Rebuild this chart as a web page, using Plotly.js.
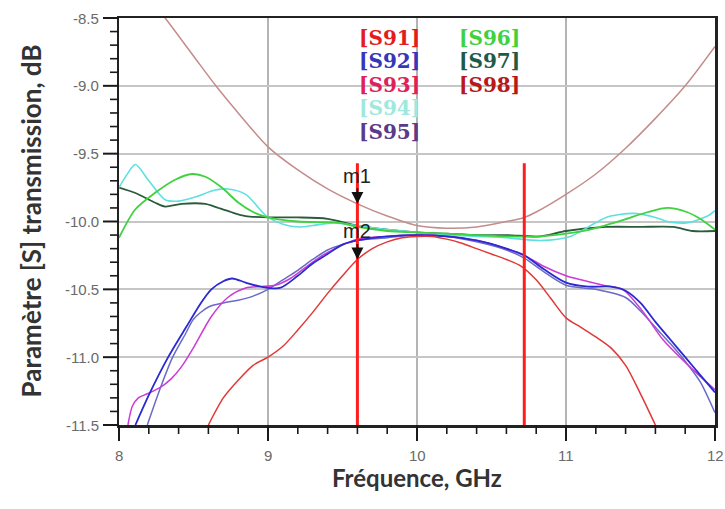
<!DOCTYPE html>
<html>
<head>
<meta charset="utf-8">
<script src="https://cdn.plot.ly/plotly-3.0.1.min.js"></script>
<style>
html,body{margin:0;padding:0;background:#fff;}
#chart{width:725px;height:509px;}
</style>
</head>
<body>
<div id="chart"></div>
<script>
// ---- data ----
var s98x = [8.0, 8.2, 8.31, 8.5, 8.65, 8.8, 9.0, 9.2, 9.4, 9.6, 9.8, 10.0, 10.2, 10.4, 10.6, 10.72, 10.8, 11.0, 11.2, 11.4, 11.6, 11.8, 12.0];
var s98y = [-8.05, -8.35, -8.5, -8.78, -9.0, -9.2, -9.45, -9.62, -9.76, -9.87, -9.96, -10.03, -10.05, -10.04, -10.0, -9.97, -9.93, -9.8, -9.65, -9.46, -9.24, -9.0, -8.71];

var s91x = [8.6, 8.7, 8.8, 8.9, 9.0, 9.1, 9.2, 9.3, 9.4, 9.5, 9.6, 9.7, 9.8, 9.9, 10.0, 10.1, 10.2, 10.3, 10.4, 10.5, 10.6, 10.7, 10.8, 10.9, 11.0, 11.1, 11.2, 11.3, 11.4, 11.5, 11.6];
var s91y = [-11.5, -11.3, -11.17, -11.06, -11.0, -10.92, -10.8, -10.67, -10.53, -10.4, -10.28, -10.2, -10.15, -10.12, -10.11, -10.11, -10.13, -10.16, -10.2, -10.24, -10.28, -10.33, -10.43, -10.57, -10.71, -10.78, -10.85, -10.93, -11.06, -11.27, -11.5];

var s92x = [8.11, 8.2, 8.33, 8.45, 8.55, 8.62, 8.7, 8.76, 8.85, 8.95, 9.08, 9.2, 9.3, 9.4, 9.5, 9.6, 9.8, 10.0, 10.2, 10.4, 10.6, 10.72, 10.85, 11.0, 11.15, 11.3, 11.4, 11.5, 11.6, 11.7, 11.8, 11.9, 12.0];
var s92y = [-11.5, -11.28, -11.0, -10.78, -10.6, -10.5, -10.44, -10.42, -10.45, -10.48, -10.49, -10.4, -10.31, -10.24, -10.17, -10.14, -10.11, -10.1, -10.11, -10.14, -10.2, -10.25, -10.35, -10.45, -10.48, -10.48, -10.51, -10.6, -10.74, -10.87, -11.0, -11.13, -11.26];

var s95x = [8.19, 8.28, 8.36, 8.45, 8.5, 8.6, 8.7, 8.8, 8.9, 9.0, 9.1, 9.2, 9.3, 9.4, 9.5, 9.6, 9.8, 10.0, 10.2, 10.4, 10.6, 10.72, 10.85, 11.0, 11.2, 11.4, 11.5, 11.6, 11.7, 11.8, 11.9, 12.0];
var s95y = [-11.5, -11.22, -11.0, -10.82, -10.72, -10.63, -10.6, -10.58, -10.55, -10.5, -10.43, -10.36, -10.28, -10.21, -10.17, -10.14, -10.12, -10.1, -10.11, -10.15, -10.21, -10.27, -10.37, -10.47, -10.5, -10.56, -10.66, -10.78, -10.9, -11.03, -11.18, -11.41];

var s93x = [8.06, 8.09, 8.13, 8.19, 8.28, 8.35, 8.42, 8.5, 8.62, 8.73, 8.85, 8.95, 9.05, 9.15, 9.25, 9.35, 9.45, 9.6, 9.8, 10.0, 10.2, 10.4, 10.6, 10.72, 10.85, 11.0, 11.1, 11.25, 11.38, 11.52, 11.65, 11.83, 12.0];
var s93y = [-11.5, -11.36, -11.3, -11.27, -11.22, -11.16, -11.07, -10.93, -10.7, -10.56, -10.49, -10.48, -10.47, -10.42, -10.34, -10.26, -10.2, -10.13, -10.11, -10.1, -10.11, -10.14, -10.2, -10.25, -10.33, -10.4, -10.43, -10.47, -10.5, -10.67, -10.87, -11.07, -11.24];

var s94x = [8.0, 8.05, 8.11, 8.2, 8.31, 8.4, 8.51, 8.64, 8.73, 8.85, 8.99, 9.1, 9.21, 9.3, 9.44, 9.6, 9.8, 10.0, 10.2, 10.4, 10.6, 10.83, 11.03, 11.15, 11.27, 11.45, 11.6, 11.68, 11.81, 11.95, 12.0];
var s94y = [-9.75, -9.66, -9.58, -9.7, -9.84, -9.85, -9.82, -9.77, -9.76, -9.8, -9.96, -10.02, -10.04, -10.03, -10.01, -10.03, -10.06, -10.08, -10.1, -10.11, -10.12, -10.14, -10.11, -10.04, -9.97, -9.94, -9.97, -10.0, -10.01, -9.96, -9.92];

var s96x = [8.0, 8.11, 8.24, 8.38, 8.49, 8.58, 8.69, 8.8, 8.9, 9.0, 9.2, 9.48, 9.6, 9.8, 10.0, 10.2, 10.4, 10.6, 10.83, 11.0, 11.16, 11.38, 11.55, 11.68, 11.81, 11.9, 12.0];
var s96y = [-10.12, -9.91, -9.79, -9.69, -9.65, -9.67, -9.75, -9.86, -9.93, -9.97, -10.0, -10.01, -10.04, -10.07, -10.08, -10.09, -10.1, -10.11, -10.11, -10.09, -10.06, -9.99, -9.93, -9.9, -9.93, -9.98, -10.06];

var s97x = [8.0, 8.11, 8.24, 8.31, 8.42, 8.58, 8.64, 8.75, 8.85, 9.03, 9.2, 9.4, 9.6, 9.8, 10.0, 10.2, 10.4, 10.6, 10.83, 11.0, 11.27, 11.5, 11.72, 11.85, 12.0];
var s97y = [-9.75, -9.79, -9.86, -9.89, -9.87, -9.87, -9.89, -9.93, -9.96, -9.97, -9.97, -9.98, -10.03, -10.06, -10.08, -10.09, -10.1, -10.1, -10.11, -10.07, -10.04, -10.04, -10.04, -10.07, -10.07];

var markerFreq = [9.6, 10.72];
var markerNames = ['m1', 'm2'];
var markerVals = [-9.87, -10.28];
var markerTop = -9.57;

var legendNames = ['[S91]', '[S92]', '[S93]', '[S94]', '[S95]', '[S96]', '[S97]', '[S98]'];
var legendColors = ['#e41c1c', '#3636b8', '#e0205a', '#9ee8de', '#5a3a8a', '#3fd23f', '#1f5a48', '#b81818'];

var xRange = [8, 12];
var yRange = [-11.5, -8.5];
var xTickVals = [8, 9, 10, 11, 12];
var xTickText = ['8', '9', '10', '11', '12'];
var yTickVals = [-8.5, -9.0, -9.5, -10.0, -10.5, -11.0, -11.5];
var yTickText = ['-8.5', '-9.0', '-9.5', '-10.0', '-10.5', '-11.0', '-11.5'];
var xMinorStep = 0.2;
var yMinorStep = 0.1;
var xTitle = 'Fréquence, GHz';
var yTitle = 'Paramètre [S] transmission, dB';

// ---- geometry of the frame (pixels) ----
var W = 725, H = 509, M = {l: 119, r: 10, t: 18, b: 84};
var plotW = W - M.l - M.r, plotH = H - M.t - M.b;

// ---- traces ----
function tr(x, y, color, w) {
  return {x: x, y: y, type: 'scatter', mode: 'lines',
          line: {color: color, width: w, shape: 'spline', smoothing: 0.8},
          hoverinfo: 'skip', showlegend: false};
}
var data = [
  tr(s98x, s98y, '#c48c8c', 1.5),
  tr(s97x, s97y, '#2a5c3c', 1.8),
  tr(s94x, s94y, '#5fe0e0', 1.6),
  tr(s96x, s96y, '#3fd23f', 1.8),
  tr(s95x, s95y, '#6a6ac8', 1.5),
  tr(s93x, s93y, '#cc3ad8', 1.5),
  tr(s92x, s92y, '#2a2ad0', 1.8),
  tr(s91x, s91y, '#e03838', 1.5)
];

// ---- shapes ----
var shapes = [{
  type: 'rect', xref: 'paper', yref: 'paper', x0: 0.383, x1: 0.698, y0: 0.646, y1: 1,
  fillcolor: '#ffffff', line: {width: 0}, layer: 'between'
}];
markerFreq.forEach(function (f) {
  shapes.push({type: 'line', xref: 'x', yref: 'y', x0: f, x1: f, y0: markerTop, y1: yRange[0],
               line: {color: '#ff1e1e', width: 3}, layer: 'above'});
});
// tick marks outside the frame (paper-referenced so they are not clipped)
function xPaper(v) { return (v - xRange[0]) / (xRange[1] - xRange[0]); }
function yPaper(v) { return (v - yRange[0]) / (yRange[1] - yRange[0]); }
var nx = Math.round((xRange[1] - xRange[0]) / xMinorStep);
for (var i = 0; i <= nx; i++) {
  var px = xPaper(xRange[0] + i * xMinorStep);
  var major = (i % 5 === 0);
  shapes.push({type: 'line', xref: 'paper', yref: 'paper', x0: px, x1: px, y0: 0,
               y1: -(major ? 16 : 9) / plotH, line: {color: '#1a1a1a', width: major ? 2 : 1.6}});
}
var ny = Math.round((yRange[1] - yRange[0]) / yMinorStep);
for (var j = 0; j <= ny; j++) {
  var py = yPaper(yRange[0] + j * yMinorStep);
  var majorY = (j % 5 === 0);
  shapes.push({type: 'line', xref: 'paper', yref: 'paper', y0: py, y1: py, x0: 0,
               x1: -(majorY ? 16 : 9) / plotW, line: {color: '#1a1a1a', width: majorY ? 2 : 1.6}});
}

// ---- annotations ----
var annotations = [];
legendNames.forEach(function (n, i) {
  var col = i < 5 ? 0 : 1;
  var row = i < 5 ? i : i - 5;
  annotations.push({
    xref: 'paper', yref: 'paper', x: col === 0 ? 0.399 : 0.567, y: 0.951 - row * 0.0575,
    xanchor: 'left', yanchor: 'middle', showarrow: false, text: '<b>' + n + '</b>',
    font: {family: 'DejaVu Serif', size: 20, color: legendColors[i]}
  });
});
markerNames.forEach(function (n, i) {
  annotations.push({
    xref: 'x', yref: 'y', x: markerFreq[0], y: markerVals[i], text: n,
    showarrow: true, ax: 0, ay: -28, arrowhead: 2, arrowsize: 1.4, arrowwidth: 1.7,
    arrowcolor: '#111', font: {family: 'Arial', size: 20, color: '#222'}
  });
});
// tick labels
xTickVals.forEach(function (v, k) {
  annotations.push({xref: 'x', yref: 'paper', x: v, y: -31 / plotH, yanchor: 'middle', xanchor: 'center',
                    showarrow: false, text: xTickText[k],
                    font: {family: 'Arial', size: 15, color: '#6a6a6a'}});
});
yTickVals.forEach(function (v, k) {
  annotations.push({xref: 'paper', yref: 'y', x: -18 / plotW, y: v, xanchor: 'right', yanchor: 'middle',
                    showarrow: false, text: yTickText[k],
                    font: {family: 'Arial', size: 15, color: '#6a6a6a'}});
});
// axis titles
annotations.push({xref: 'paper', yref: 'paper', x: 0.5, y: -52 / plotH, xanchor: 'center', yanchor: 'middle',
                  showarrow: false, text: '<b>' + xTitle + '</b>',
                  font: {family: 'Lato', size: 24, color: '#333'}});
annotations.push({xref: 'paper', yref: 'paper', x: -89 / plotW, y: 0.5, xanchor: 'center', yanchor: 'middle',
                  textangle: -90, showarrow: false, text: '<b>' + yTitle + '</b>',
                  font: {family: 'Lato', size: 26, color: '#333'}});

var layout = {
  width: W, height: H,
  margin: M,
  paper_bgcolor: '#ffffff', plot_bgcolor: '#ffffff',
  font: {family: 'Arial', color: '#555'},
  xaxis: {
    range: xRange, tickmode: 'array', tickvals: xTickVals, showticklabels: false, ticks: '',
    showline: true, linecolor: '#222', linewidth: 2.5, mirror: true,
    showgrid: true, gridcolor: '#b4b4b4', gridwidth: 1.2, zeroline: false
  },
  yaxis: {
    range: yRange, tickmode: 'array', tickvals: yTickVals, showticklabels: false, ticks: '',
    showline: true, linecolor: '#222', linewidth: 2.5, mirror: true,
    showgrid: true, gridcolor: '#c6c6c6', gridwidth: 2, zeroline: false
  },
  shapes: shapes,
  annotations: annotations
};

Plotly.newPlot('chart', data, layout, {displayModeBar: false, staticPlot: true});
</script>
</body>
</html>
